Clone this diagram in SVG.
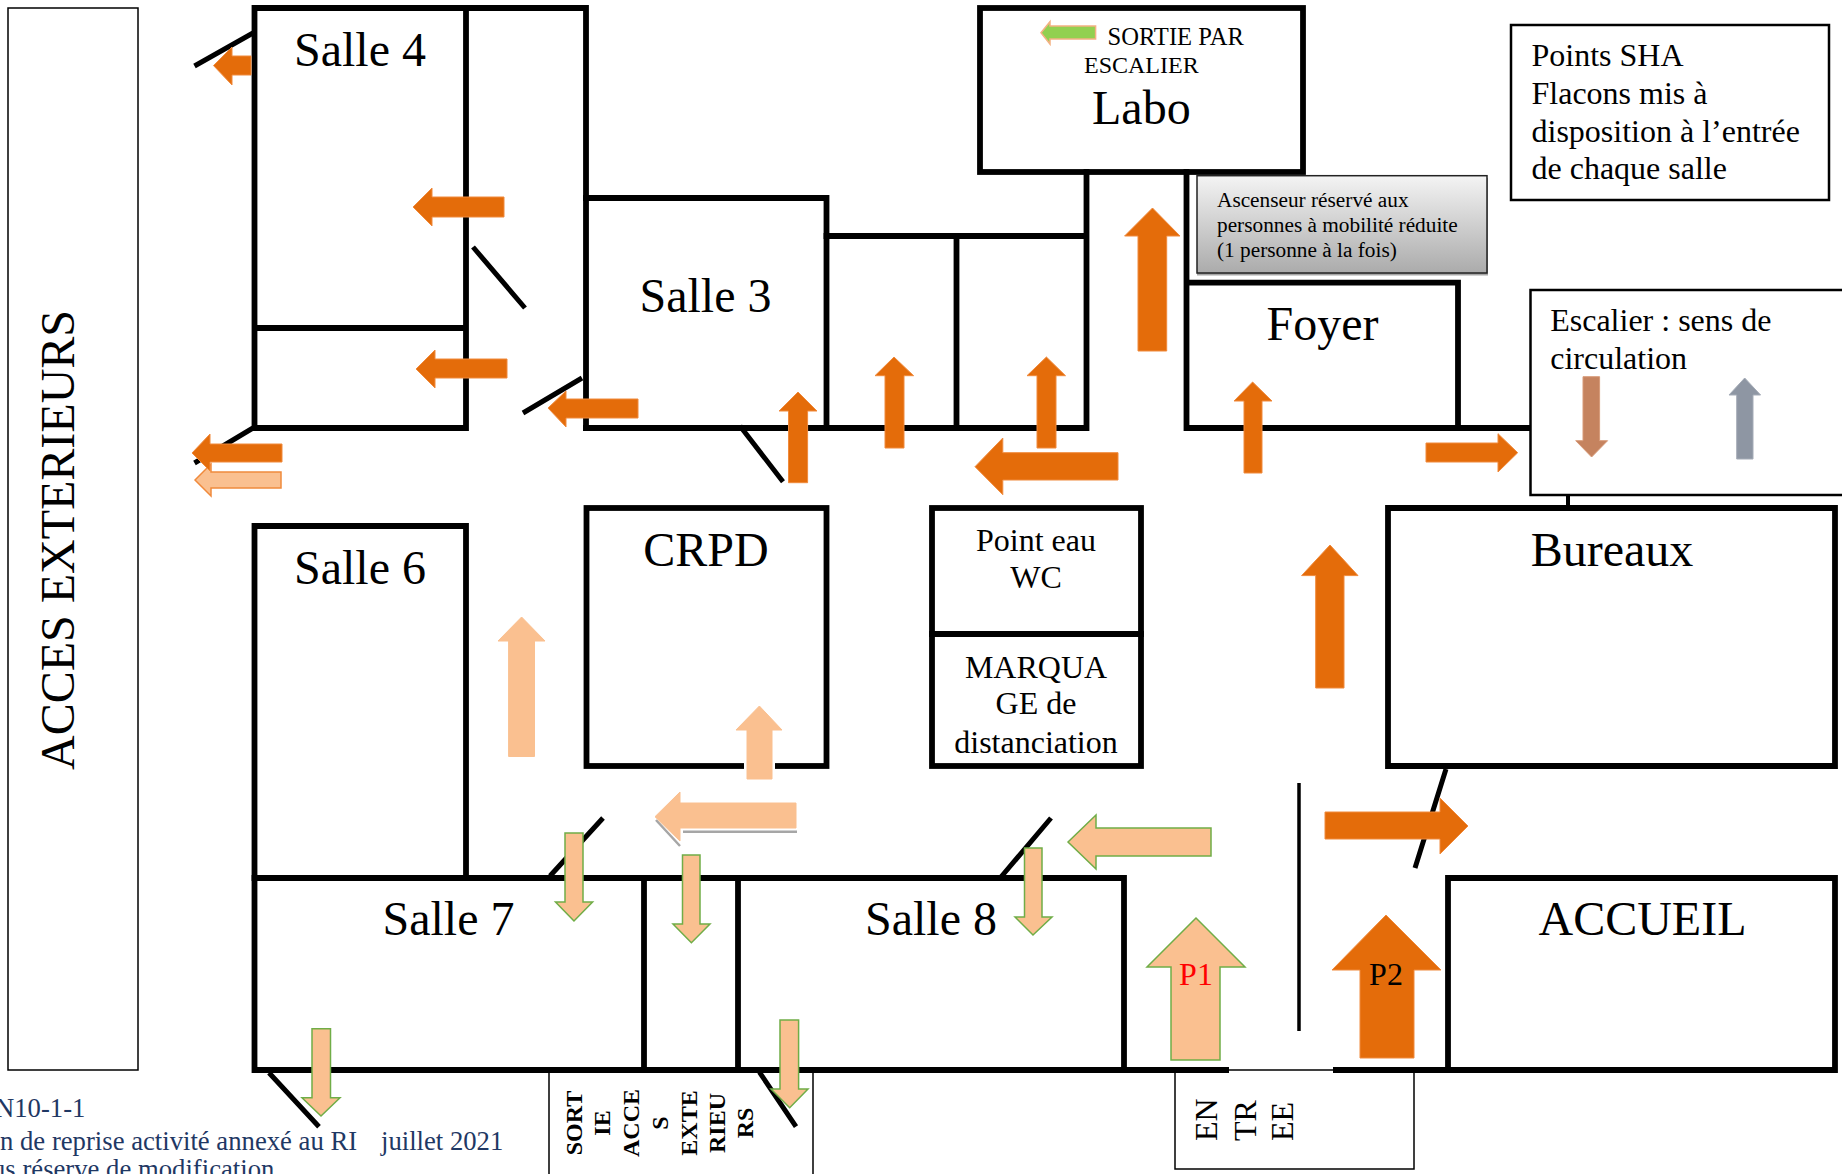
<svg xmlns="http://www.w3.org/2000/svg" width="1842" height="1174" viewBox="0 0 1842 1174">
<style>
text{font-family:"Liberation Serif","Times New Roman",serif;fill:#000}
.w{fill:none;stroke:#000;stroke-width:5.8;stroke-linecap:square}
.butt{stroke-linecap:butt}
.thin{fill:#fff;stroke:#000;stroke-width:1.5}
.box{fill:#fff;stroke:#000;stroke-width:2.5}
.d{stroke:#000;stroke-width:5;fill:none}
.big{font-size:48px;text-anchor:middle}
.mid{font-size:32px}
.c{text-anchor:middle}
.small{font-size:21.3px}
.s{font-size:24px;font-weight:bold;text-anchor:middle}
.e{font-size:32px}
.navy{font-size:26.7px;fill:#1F3864}
.o{fill:#E46C0A;stroke:#F08A3C;stroke-width:1}
.lo{fill:#FAC090;stroke:#F08A3C;stroke-width:1.5}
.lw{fill:#FAC090;stroke:#FAC090;stroke-width:1}
.lg{fill:#FAC090;stroke:#70AD47;stroke-width:1.5}
</style>
<defs>
<linearGradient id="g" x1="0" y1="0" x2="0" y2="1"><stop offset="0" stop-color="#F4F4F4"/><stop offset="1" stop-color="#ABABAB"/></linearGradient>
</defs>
<rect width="1842" height="1174" fill="#fff"/>

<g id="acces-exterieurs">
<rect class="thin" x="8" y="8" width="130" height="1062"/>
<text transform="translate(73.500,540) rotate(-90)" font-size="48" text-anchor="middle">ACCES EXTERIEURS</text>
</g>
<g id="entree">
<rect class="thin" x="1175" y="1070" width="239" height="99"/>
<text class="e" transform="translate(1217,1141) rotate(-90)">EN</text>
<text class="e" transform="translate(1255.500,1141) rotate(-90)">TR</text>
<text class="e" transform="translate(1293,1141) rotate(-90)">EE</text>
</g>
<g id="sortie-acces-exterieurs">
<path class="thin" d="M549 1174V1069H813V1174" fill="none"/>
<text class="s" transform="translate(581.500,1123) rotate(-90)">SORT</text>
<text class="s" transform="translate(609.500,1123) rotate(-90)">IE</text>
<text class="s" transform="translate(638.500,1123) rotate(-90)">ACCE</text>
<text class="s" transform="translate(667.500,1123) rotate(-90)">S</text>
<text class="s" transform="translate(696.500,1123) rotate(-90)">EXTE</text>
<text class="s" transform="translate(724.500,1123) rotate(-90)">RIEU</text>
<text class="s" transform="translate(752.500,1123) rotate(-90)">RS</text>
</g>

<g id="salle-4">
<path class="w" d="M254.500 8H466V428H254.500ZM254.500 328H466"/>
<text class="big" x="360" y="66">Salle 4</text>
</g>
<g id="couloir-nord">
<path class="w" d="M466 8H586V428"/>
</g>
<g id="salle-3">
<path class="w" d="M586 198H826.500V428H586"/>
<text class="big" x="705.500" y="312">Salle 3</text>
</g>
<g id="locaux">
<path class="w" d="M826.500 236H1086.500V428H826.500M956.500 236V428M1086.500 172V236"/>
</g>
<g id="labo">
<rect class="w" x="980" y="8" width="323" height="164"/>
<text font-size="24.600" x="1107.500" y="45">SORTIE PAR</text>
<text font-size="24" x="1084" y="72.500">ESCALIER</text>
<text font-size="48" x="1092" y="124">Labo</text>
</g>
<g id="foyer">
<path class="w" d="M1186.500 172V428H1458V282.700H1186.500M1458 428H1530"/>
<text class="big" x="1322.500" y="340">Foyer</text>
</g>
<g id="ascenseur">
<rect x="1197" y="178" width="291" height="97.500" fill="#A6A6A6"/>
<rect x="1197" y="175.700" width="290" height="97.300" fill="url(#g)" stroke="#222" stroke-width="1.500"/>
<text class="small" x="1217" y="206.700">Ascenseur réservé aux</text>
<text class="small" x="1217" y="231.700">personnes à mobilité réduite</text>
<text class="small" x="1217" y="256.700">(1 personne à la fois)</text>
</g>
<g id="points-sha">
<rect class="box" x="1511" y="25" width="318" height="175"/>
<text class="mid" x="1531.500" y="66">Points SHA</text>
<text class="mid" x="1531.500" y="104">Flacons mis à</text>
<text class="mid" x="1531.500" y="141.700">disposition à l’entrée</text>
<text class="mid" x="1531.500" y="179">de chaque salle</text>
</g>
<g id="escalier">
<path d="M1568 495V508" stroke="#000" stroke-width="4"/>
<path class="box" d="M1842 290H1530.500V495H1842"/>
<text class="mid" x="1550.200" y="331">Escalier : sens de</text>
<text class="mid" x="1550.200" y="369">circulation</text>
</g>
<g id="salle-6">
<path class="w" d="M254.500 878V526H466V878"/>
<text class="big" x="360" y="584">Salle 6</text>
</g>
<g id="crpd">
<rect class="w" x="586.500" y="508" width="240" height="258"/>
<text class="big" x="706" y="566">CRPD</text>
</g>
<g id="point-eau">
<rect class="w" x="932" y="508" width="209" height="258"/>
<path class="w" d="M932 634H1141"/>
<text class="mid c" x="1036" y="551">Point eau</text>
<text class="mid c" x="1036" y="588">WC</text>
<text class="mid c" x="1036" y="678">MARQUA</text>
<text class="mid c" x="1036" y="714">GE de</text>
<text class="mid c" x="1036" y="753">distanciation</text>
</g>
<g id="bureaux">
<path class="w" d="M1388 766V508H1835V766H1388"/>
<text class="big" x="1612" y="566">Bureaux</text>
</g>
<g id="salle-7">
<path class="w" d="M254.500 878H644V1070H254.500Z"/>
<text class="big" x="448.500" y="935">Salle 7</text>
</g>
<g id="sortie-couloir">
<path class="w" d="M644 878H738V1070H644"/>
</g>
<g id="salle-8">
<path class="w" d="M738 878H1124V1070H738"/>
<text class="big" x="931" y="935">Salle 8</text>
</g>
<g id="hall">
<path class="w butt" d="M1124 1070H1229M1333 1070H1448"/>
<path d="M1299 783V1031" stroke="#000" stroke-width="3.500"/>
</g>
<g id="accueil">
<path class="w" d="M1448 878H1835V1070H1448Z"/>
<text class="big" x="1642.500" y="935">ACCUEIL</text>
</g>
<g id="pied-de-page">
<text class="navy" x="-5" y="1117">N10-1-1</text>
<text class="navy" x="0" y="1150">n de reprise activité annexé au RI</text>
<text class="navy" x="381" y="1150">juillet 2021</text>
<text class="navy" x="-8" y="1178">us réserve de modification</text>
</g>

<g id="connectors">
<g id="portes">
<path class="d" d="M253 33L194.500 66M473 247L525 308M582 378L523 413M253 428L194.500 463M740 426L783 481.700M603 818L550 876M1051 818L1001 877M1446 769L1415 868M269 1072.700L319 1126.700M759.400 1072L796 1126.700"/>
</g>
<g id="fleches-sortie">
<polygon class="lo" points="195,480 211,464 211,472 281,472 281,488 211,488 211,496"/>
<polygon class="o" points="192,453 210,434 210,444 282,444 282,462 210,462 210,471"/>
<polygon class="o" points="213.500,65.600 232,47 232,56 251,56 251,75 232,75 232,85"/>
<polygon class="o" points="413,207 432,188 432,197 504,197 504,217 432,217 432,226"/>
<polygon class="o" points="416,369 435,350 435,359 507,359 507,378 435,378 435,388"/>
<polygon class="o" points="548,408 566,391 566,399 638,399 638,418 566,418 566,427"/>
<polygon class="o" points="798,392 779,411 788.500,411 788.500,482.700 807.600,482.700 807.600,411 817,411"/>
<polygon class="o" points="894,357 875,375.700 885,375.700 885,448 904,448 904,375.700 913.600,375.700"/>
<polygon class="o" points="1046.400,357 1027,375.700 1037,375.700 1037,448 1056,448 1056,375.700 1065.500,375.700"/>
<polygon class="o" points="975,466.700 1002.800,438 1002.800,452.700 1118,452.700 1118,480 1002.800,480 1002.800,494.700"/>
<polygon class="o" points="1152.500,208 1124.600,236 1138,236 1138,351 1166.700,351 1166.700,236 1180,236"/>
<polygon class="o" points="1252.600,382 1234,401 1244,401 1244,473 1262,473 1262,401 1272,401"/>
<polygon class="o" points="1517.700,452.700 1498,433.700 1498,443 1426,443 1426,462 1498,462 1498,472"/>
<polygon class="o" points="1330,545 1301.600,575.600 1315.700,575.600 1315.700,688 1344,688 1344,575.600 1358,575.600"/>
<polygon class="o" points="1468,826 1440,798 1440,812 1325,812 1325,839 1440,839 1440,854"/>
<polygon class="o" points="1386,915 1332,970 1360,970 1360,1058 1414,1058 1414,970 1441,970"/>
</g>
<g id="fleches-entree">
<polygon class="lw" points="521.600,617 498,641 508.600,641 508.600,756.500 534.500,756.500 534.500,641 545,641"/>
<rect x="744" y="757" width="31" height="14" fill="#fff"/>
<polygon class="lw" points="759.400,706 736,730 747,730 747,779 772,779 772,730 782,730"/>
<path d="M656 820L680 846M683 831.700H797" fill="none" stroke="#A6A6A6" stroke-width="2.500"/>
<polygon class="lw" points="655,816.700 680,792 680,803 796,803 796,828 680,828 680,841"/>
<polygon class="lg" points="1068,842 1096,815 1096,828 1211,828 1211,856 1096,856 1096,869"/>
<polygon class="lg" points="1033,935 1015,917 1024.500,917 1024.500,848 1042,848 1042,917 1052,917"/>
<polygon class="lg" points="574,921 555.500,902 565,902 565,833 583,833 583,902 592.600,902"/>
<polygon class="lg" points="691.400,942.700 673,924 682.500,924 682.500,855 700,855 700,924 710,924"/>
<polygon class="lg" points="321,1116 302,1097.700 312,1097.700 312,1028.700 330.500,1028.700 330.500,1097.700 340,1097.700"/>
<polygon class="lg" points="789.700,1107.700 771,1089 780,1089 780,1020 798.600,1020 798.600,1089 808,1089"/>
<polygon class="lg" points="1196,918 1147,967 1171,967 1171,1060 1220,1060 1220,967 1245,967"/>
</g>
<g id="fleches-legende">
<polygon fill="#92D050" stroke="#F4B183" stroke-width="1.500" points="1041,32.700 1050,21.700 1050,26 1095.600,26 1095.600,39 1050,39 1050,44"/>
<polygon fill="#C5835F" stroke="#D79A78" stroke-width="1" points="1591.600,457 1575.700,440.700 1583,440.700 1583,376.700 1599.600,376.700 1599.600,440.700 1607.600,440.700"/>
<polygon fill="#8E96A3" stroke="#A5ACB7" stroke-width="1" points="1744.700,378 1729,395 1736.700,395 1736.700,459 1753,459 1753,395 1760.600,395"/>
</g>
</g>
<text font-size="32" x="1196" y="985" text-anchor="middle" style="fill:#FF0000">P1</text>
<text font-size="32" x="1386" y="985" text-anchor="middle">P2</text>
</svg>
